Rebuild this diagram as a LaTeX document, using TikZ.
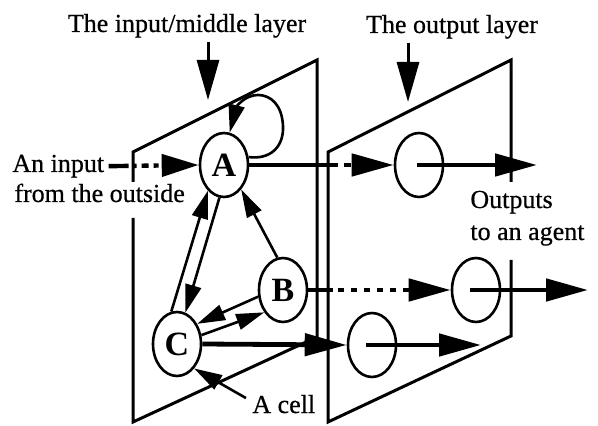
\documentclass[tikz,border=0pt]{standalone}
\usepackage{fontspec}
\setmainfont{Liberation Serif}
\newfontfamily\lblfont{Liberation Serif}[FakeBold=0.6]
\usetikzlibrary{arrows.meta,shapes.geometric,calc}
\begin{document}
\begin{tikzpicture}[x=0.5pt,y=-0.5pt,
  plane/.style={line width=1.5pt, line join=miter},
  cell/.style={draw, ellipse, line width=1.3pt, minimum width=24pt, minimum height=32pt, inner sep=0pt, font=\fontsize{17}{17}\selectfont\bfseries},
  bigarrow/.style={line width=2.4pt, -{Triangle[length=21pt,width=11pt]}},
  inarrow/.style={line width=2.2pt, -{Triangle[length=18.5pt,width=11pt]}},
  smallarrow/.style={line width=1.3pt, -{Triangle[length=14pt,width=8pt]}},
  titlearrow/.style={line width=1.5pt, -{Triangle[length=20pt,width=11pt]}},
  lbl/.style={font=\lblfont\fontsize{13}{15}\selectfont, inner sep=0pt},
]
\useasboundingbox (0,0) rectangle (598,426);
\fill[white] (0,0) rectangle (598,426);

% planes
\coordinate (L1) at (133,152);
\coordinate (L2) at (317,60);
\coordinate (L3) at (317,337);
\coordinate (L4) at (133,422);
\coordinate (R1) at (328,152);
\coordinate (R2) at (511,60);
\coordinate (R3) at (511,336);
\coordinate (R4) at (328,422);
\draw[plane] (133,182) -- (L1) -- (L2) -- (L3) -- (L4) -- (133,218);
\draw[plane] (511,182) -- (R2) -- (R1) -- (R4) -- (R3) -- (511,260);

% cells
\node[cell] (A) at (224,165) {A};
\node[cell] (B) at (283,290) {B};
\node[cell] (C) at (177,344) {C};
\node[cell] (O1) at (419,165) {};
\node[cell] (O2) at (476,290) {};
\node[cell] (O3) at (372,345) {};

% labels
\node[lbl, anchor=base] (t1) at (187,32) {The input/middle layer};
\node[lbl, anchor=base] (t2) at (452,33) {The output layer};
\node[lbl, anchor=base west] (in1) at (12,172) {An input};
\node[lbl, anchor=base west] (in2) at (14,202) {from the outside};
\node[lbl, anchor=base west] (out1) at (470,208) {Outputs};
\node[lbl, anchor=base west] (out2) at (470,240) {to an agent};
\node[lbl, anchor=base west] (cellL) at (252,413) {A cell};

\coordinate (t1tip) at (208,100);
\coordinate (t2tip) at (408,102);
\draw[titlearrow] ([yshift=-2pt]t1.south -| t1tip) -- (t1tip);
\draw[titlearrow] ([yshift=-2pt]t2.south -| t2tip) -- (t2tip);

% input
\draw[inarrow, dash pattern=on 10pt off 2pt on 2pt off 2.5pt on 3.5pt off 2.5pt on 2.5pt off 3pt]
  ([xshift=2pt]in1.east) -- (A.west);

% to output layer
\draw[bigarrow, dash pattern=on 44.5pt off 3pt on 3.5pt off 2pt] (A.east) -- (O1.west);
\draw[bigarrow, dash pattern=on 12.5pt off 2.5pt on 3pt off 3.5pt on 3pt off 3.5pt on 3pt off 3.5pt on 3pt off 3.5pt on 3pt off 3.5pt on 3pt off 3.5pt] (B.east) -- (O2.west);
\draw[bigarrow] (C.east) -- (O3.west);

% outputs
\coordinate (o1end) at (537,165);
\coordinate (o2end) at (588,290);
\coordinate (o3end) at (481,345);
\draw[bigarrow] ([xshift=-1pt]O1.center) -- (o1end);
\draw[bigarrow] ([xshift=-3pt]O2.center) -- (o2end);
\draw[bigarrow] ([xshift=-3pt]O3.center) -- (o3end);

% internal connections
\draw[smallarrow] (C.100) -- (A.238);
\draw[smallarrow] (A.262) -- (C.75);
\draw[smallarrow] (B.100) -- (A.305);
\draw[smallarrow] (B.195) -- (C.45);
\draw[smallarrow] (C.20) -- (B.230);
\draw[smallarrow] (A.18) .. controls (270,160) and (284,147) .. (283,126)
  .. controls (282,104) and (270,95) .. (258,95)
  .. controls (244,95) and (236,108) .. (A.80);

% cell pointer
\draw[smallarrow] ([xshift=-3pt,yshift=3pt]cellL.west) -- (C.305);
\end{tikzpicture}
\end{document}
